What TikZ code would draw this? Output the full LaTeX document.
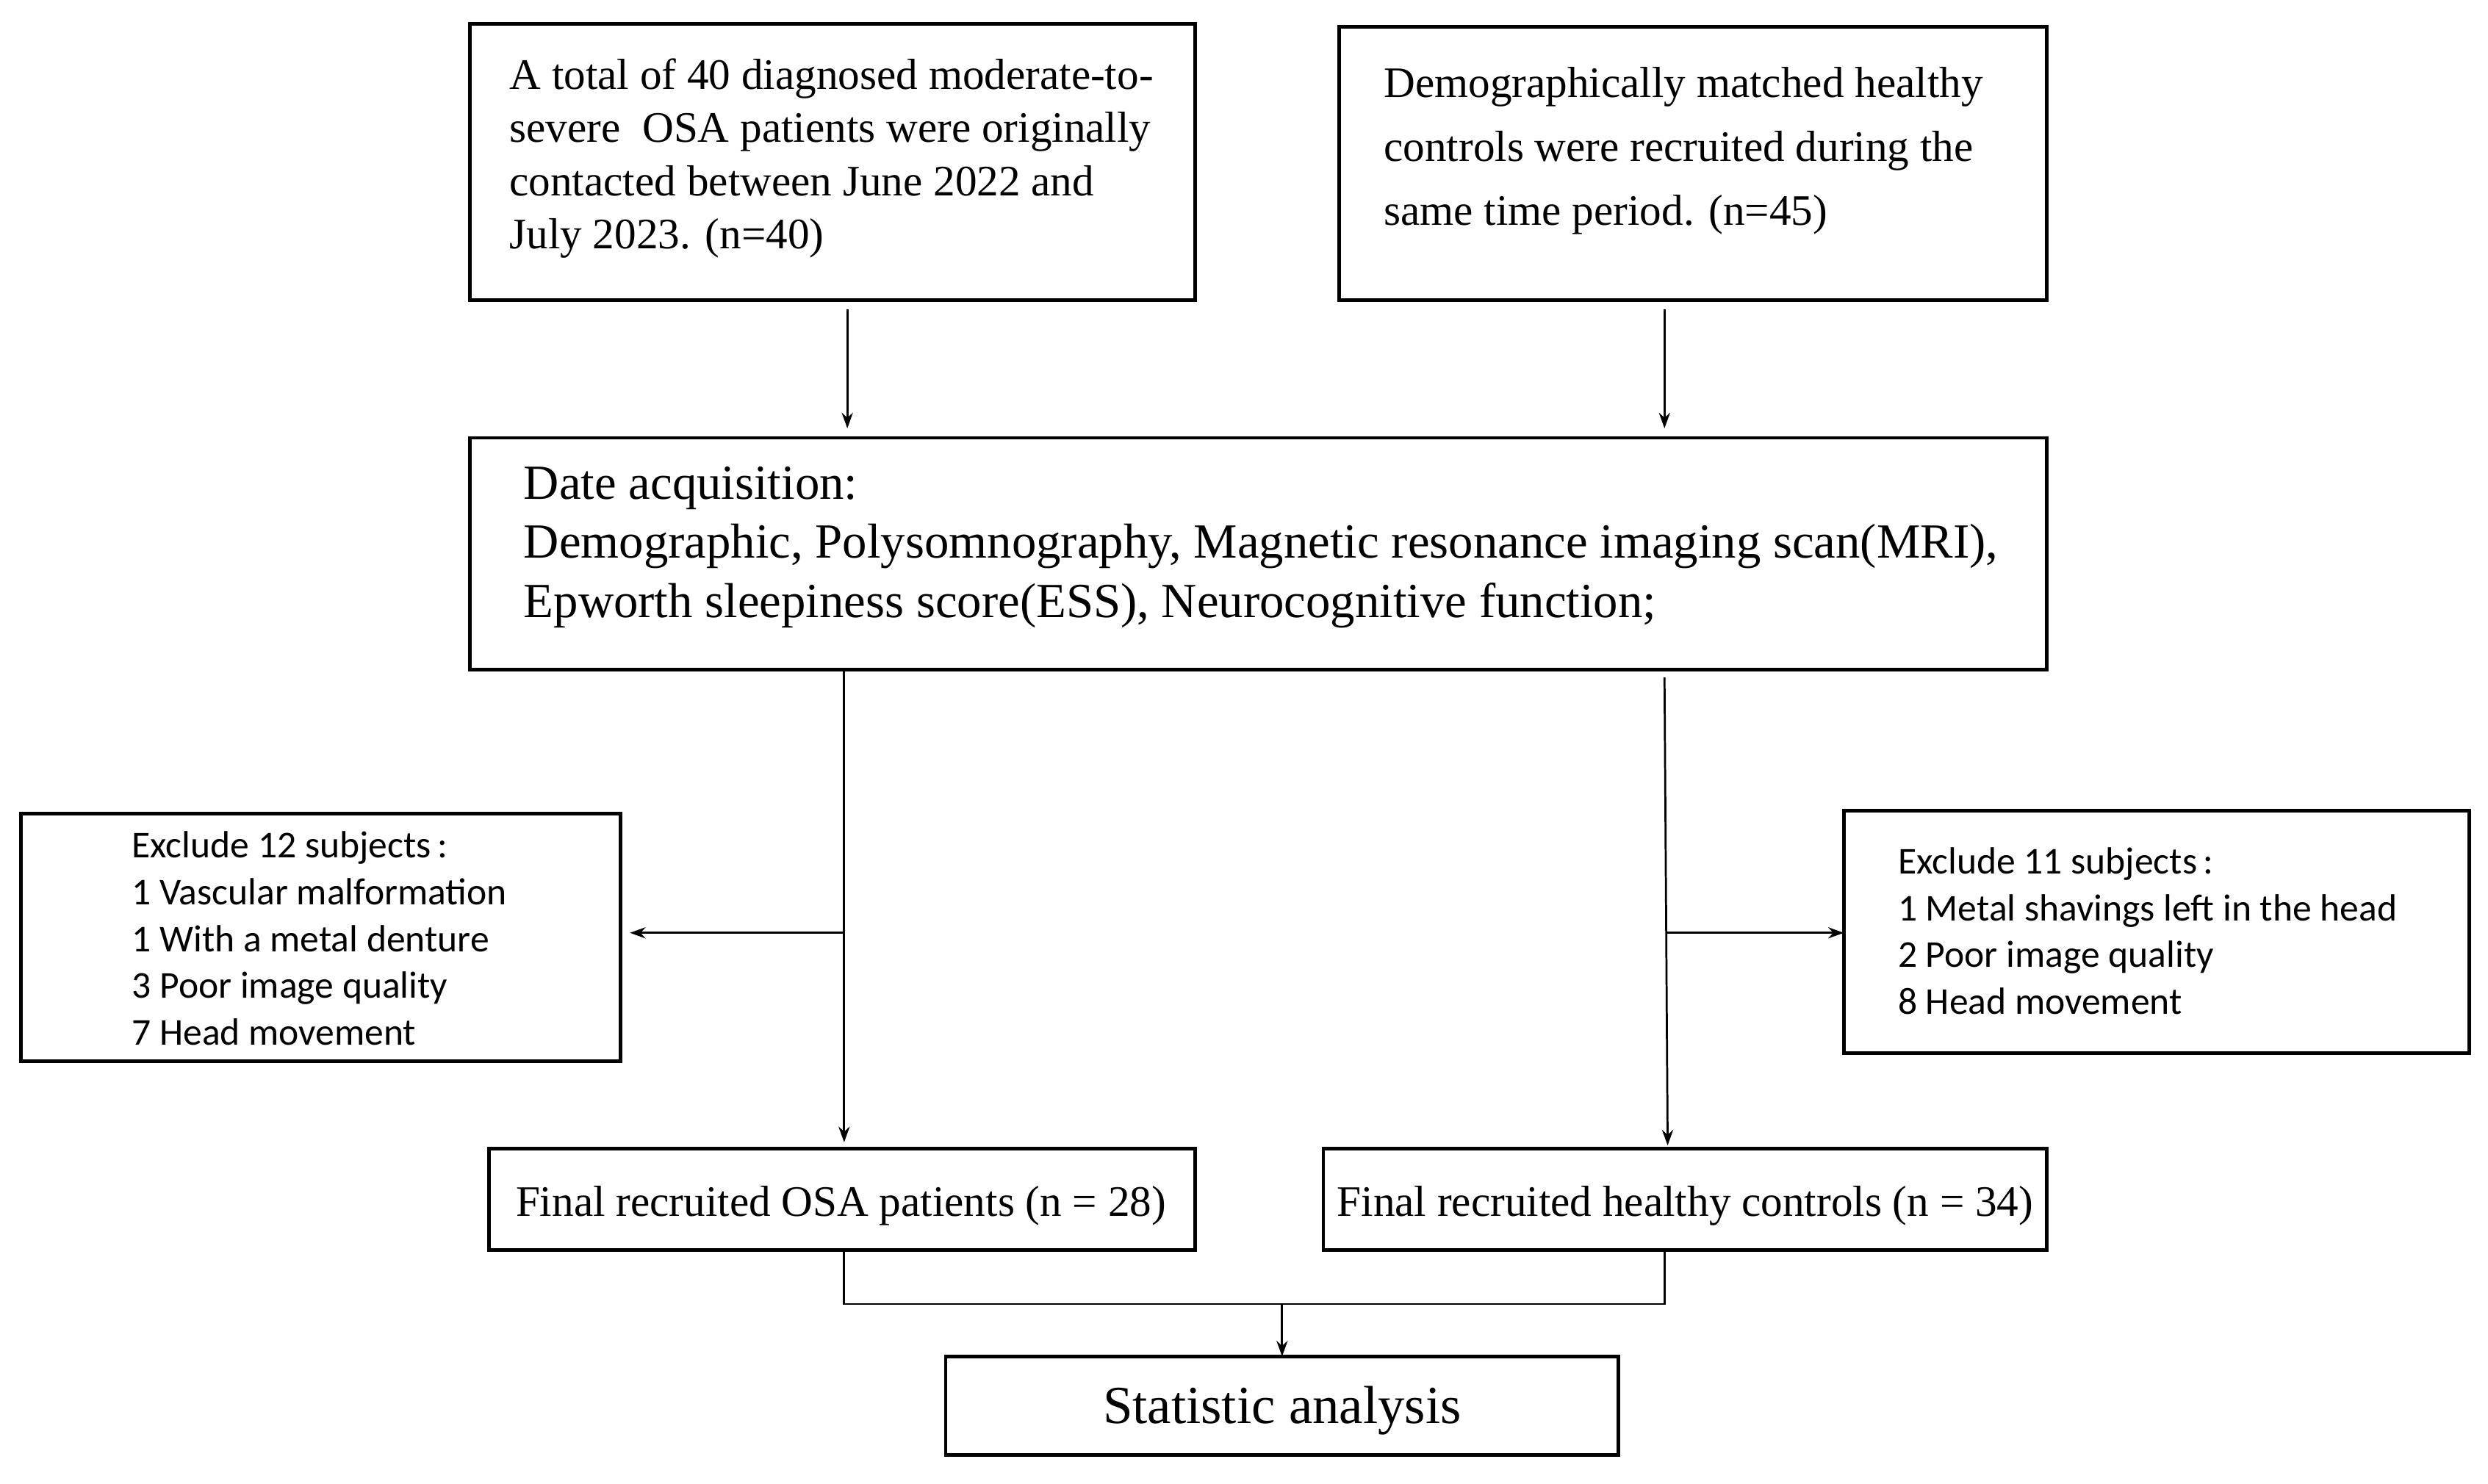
\documentclass[tikz,border=0pt]{standalone}
\usepackage{fontspec}
\setmainfont{Liberation Serif}
\newfontfamily\sansf{Carlito}
\usetikzlibrary{arrows.meta}
\begin{document}
\begin{tikzpicture}[x=0.05cm,y=-0.05cm,
 box/.style={draw,line width=3.2pt},
 arr/.style={line width=1.8pt,-{Stealth[length=14pt,width=10pt]}},
 ln/.style={line width=1.8pt}]
\useasboundingbox (0,0) rectangle (1568,935);
\path[box] (296,15) rectangle (753,189);
\path[box] (844,17) rectangle (1290,189);
\path[box] (296,276) rectangle (1290,422);
\path[box] (13,513) rectangle (391,669);
\path[box] (1162,511) rectangle (1556,664);
\path[box] (308,724) rectangle (753,788);
\path[box] (834,724) rectangle (1290,788);
\path[box] (596,855) rectangle (1020,917);
\node (t1) [anchor=north west,align=left,font=\fontsize{39}{47.5}\selectfont,inner sep=0pt] at (321,37)
 {A total of 40 diagnosed moderate-to-\\severe\ \ OSA patients were originally\\contacted between June 2022 and\\July 2023. (n=40)};
\node (t2) [anchor=north west,align=left,font=\fontsize{39}{57.5}\selectfont,inner sep=0pt] at (872,42)
 {Demographically matched healthy\\controls were recruited during the\\same time period. (n=45)};
\node (t3) [anchor=north west,align=left,font=\fontsize{44}{53}\selectfont,inner sep=0pt] at (330,294)
 {Date acquisition:\\Demographic, Polysomnography, Magnetic resonance imaging scan(MRI),\\Epworth sleepiness score(ESS), Neurocognitive function;};
\node (t4) [anchor=north west,align=left,font=\sansf\fontsize{34}{42}\selectfont,inner sep=0pt] at (83,524)
 {Exclude 12 subjects\,:\\1 Vascular malformation\\1 With a metal denture\\3 Poor image quality\\7 Head movement};
\node (t5) [anchor=north west,align=left,font=\sansf\fontsize{34}{42}\selectfont,inner sep=0pt] at (1196,534)
 {Exclude 11 subjects\,:\\1 Metal shavings left in the head\\2 Poor image quality\\8 Head movement};
\node (t6) [font=\fontsize{39}{40}\selectfont,inner sep=0pt] at (530,760) {Final recruited OSA patients (n = 28)};
\node (t7) [font=\fontsize{39}{40}\selectfont,inner sep=0pt] at (1062,760) {Final recruited healthy controls (n = 34)};
\node (t8) [font=\fontsize{48}{50}\selectfont,inner sep=0pt] at (808,889) {Statistic analysis};
\coordinate (a1) at (534,195); \coordinate (a2) at (534,270);
\coordinate (b1) at (1049,195); \coordinate (b2) at (1049,270);
\coordinate (c1) at (532,422); \coordinate (c2) at (532,720); \coordinate (c3) at (532,588); \coordinate (c4) at (397,588);
\coordinate (d1) at (1049,427); \coordinate (d2) at (1051,722); \coordinate (d3) at (1050,588); \coordinate (d4) at (1162,588);
\coordinate (e1) at (532,788); \coordinate (e2) at (1049,788); \coordinate (e3) at (808,822); \coordinate (e4) at (808,855);
\draw[arr] (a1) -- (a2);
\draw[arr] (b1) -- (b2);
\draw[arr] (c1) -- (c2);
\draw[arr] (c3) -- (c4);
\draw[arr] (d1) -- (d2);
\draw[arr] (d3) -- (d4);
\draw[ln] (e1) |- (e3) -| (e2);
\draw[arr] (e3) -- (e4);
\end{tikzpicture}
\end{document}
